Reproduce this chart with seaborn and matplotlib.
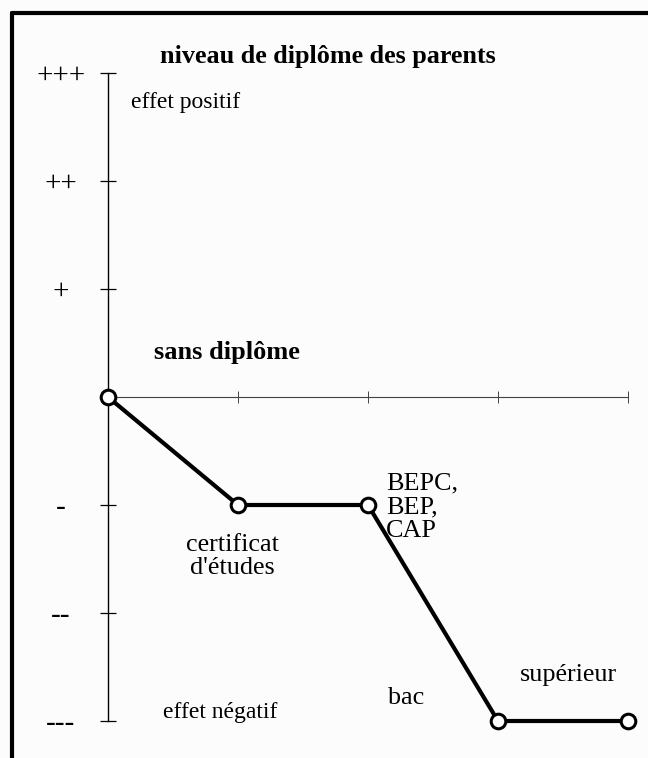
import matplotlib
matplotlib.use('Agg')
import matplotlib.pyplot as plt
from matplotlib.lines import Line2D

import pandas as pd
import seaborn as sns

# data
levels = ['sans diplôme', "certificat\nd'études", 'BEPC,\nBEP,\nCAP', 'bac', 'supérieur']
effect = [0, -1, -1, -3, -3]
scale_values = [-3, -2, -1, 0, 1, 2, 3]
scale_labels = ['---', '--', '-', '', '+', '++', '+++']
x_ticks = [1, 2, 3, 4]
title = 'niveau de diplôme des parents'
top_note = 'effet positif'
bottom_note = 'effet négatif'

# where each level name sits (data coords), alignment, weight, line spacing
label_spots = [
    (0.35, 0.41, 'left', 'bold', 1.0),
    (0.96, -1.48, 'center', 'normal', 1.05),
    (2.14, -1.02, 'left', 'normal', 1.1),
    (2.15, -2.79, 'left', 'normal', 1.0),
    (3.17, -2.57, 'left', 'normal', 1.0),
]

df = pd.DataFrame({'rang': range(len(levels)), 'effet': effect, 'niveau': levels})

sns.set_theme(style='white')
plt.rcParams['font.family'] = ['Liberation Serif', 'DejaVu Serif']
plt.rcParams['text.color'] = 'black'
plt.rcParams['ytick.color'] = 'black'
plt.rcParams['ytick.labelcolor'] = 'black'

fig = plt.figure(figsize=(6.48, 7.58), dpi=100, facecolor='#fcfcfc')
ax = fig.add_axes([108 / 648, 37 / 758, 520 / 648, 648 / 758])
ax.set_facecolor('none')

sns.lineplot(data=df, x='rang', y='effet', ax=ax, color='black', lw=3.0,
             marker='o', markersize=10.5, markerfacecolor='white',
             markeredgecolor='black', markeredgewidth=2.2, clip_on=False, zorder=5)

ax.set_xlim(0, 4)
ax.set_ylim(-3, 3)
ax.set_xlabel('')
ax.set_ylabel('')

sns.despine(ax=ax)
ax.spines['bottom'].set_position(('data', 0))
ax.spines['bottom'].set_linewidth(0.8)
ax.spines['bottom'].set_color('#444444')
ax.spines['left'].set_linewidth(1.0)
ax.spines['left'].set_color('black')

ax.set_xticks(x_ticks)
ax.tick_params(axis='x', bottom=True, labelbottom=False, direction='inout',
               length=9, width=0.7, color='#444444')
ax.set_yticks(scale_values, scale_labels, fontsize=21)
ax.tick_params(axis='y', left=True, direction='inout', length=12, width=0.9,
               color='black', labelcolor='black', pad=28)
for lbl in ax.get_yticklabels():
    lbl.set_horizontalalignment('center')

for name, (x, y, ha, weight, ls) in zip(levels, label_spots):
    ax.text(x, y, name, ha=ha, va='center', fontsize=18.8 if weight == 'normal' else 19,
            fontweight=weight, linespacing=ls, clip_on=False)

ax.text(1.69, 3.15, title, ha='center', va='center', fontsize=18.8,
        fontweight='bold', clip_on=False)
ax.text(0.18, 2.73, top_note, ha='left', va='center', fontsize=17, clip_on=False)
ax.text(0.42, -2.92, bottom_note, ha='left', va='center', fontsize=17, clip_on=False)

# frame of the scanned page
fig.add_artist(Line2D([12 / 648, 12 / 648], [0, 1 - 13 / 758], transform=fig.transFigure,
                      color='black', lw=3))
fig.add_artist(Line2D([12 / 648, 1], [1 - 13 / 758, 1 - 13 / 758], transform=fig.transFigure,
                      color='black', lw=3))

fig.savefig('out.png', dpi=100, facecolor=fig.get_facecolor())
